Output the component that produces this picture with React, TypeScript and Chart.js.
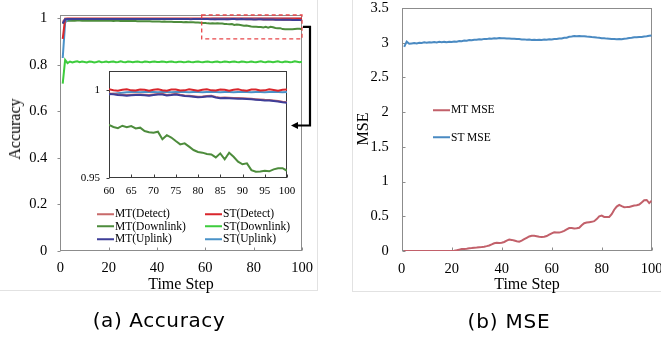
import React, { useEffect, useRef } from 'react';
import { Chart, registerables } from 'chart.js';

Chart.register(...registerables);

const SERIF = '"Liberation Serif", "Times New Roman", serif';

// ---------- categories / ticks ----------
const timeSteps = Array.from({ length: 100 }, (_, i) => i + 1);
const stepTicks = [0, 20, 40, 60, 80, 100];
const accTicks = [0, 0.2, 0.4, 0.6, 0.8, 1];
const insetStepTicks = [60, 65, 70, 75, 80, 85, 90, 95, 100];
const insetAccTicks = [0.95, 1];
const mseTicks = [0, 0.5, 1, 1.5, 2, 2.5, 3, 3.5];

// ---------- accuracy series (steps 1..100) ----------
const mtDetect = [
  0.985, 0.9975, 0.9981, 0.9979, 0.9982, 0.998, 0.9978, 0.9981, 0.9983, 0.998,
  0.9979, 0.9982, 0.998, 0.9978, 0.9981, 0.9983, 0.998, 0.9978, 0.9981, 0.9982,
  0.998, 0.9977, 0.998, 0.9982, 0.9979, 0.9978, 0.9981, 0.9982, 0.9979, 0.9977,
  0.998, 0.9982, 0.9979, 0.9977, 0.998, 0.9981, 0.9978, 0.9977, 0.998, 0.9981,
  0.9978, 0.9976, 0.9979, 0.9981, 0.9978, 0.9976, 0.9979, 0.998, 0.9977, 0.9976,
  0.9979, 0.998, 0.9977, 0.9975, 0.9978, 0.998, 0.9977, 0.9976, 0.9979, 0.998,
  0.9979, 0.9975, 0.9973, 0.9971, 0.9973, 0.9975, 0.9975, 0.9973, 0.9971, 0.9974,
  0.9977, 0.9978, 0.9972, 0.9974, 0.9978, 0.9973, 0.9969, 0.9968, 0.9965, 0.9962,
  0.9963, 0.9966, 0.9967, 0.9961, 0.9956, 0.9957, 0.9956, 0.9955, 0.9954, 0.9953,
  0.9952, 0.995, 0.9948, 0.9946, 0.9944, 0.9943, 0.9941, 0.9938, 0.9933, 0.9931,
];
const stDetect = [
  0.912, 0.9992, 1.0001, 0.9998, 1.0003, 1.0, 0.9997, 1.0002, 1.0004, 0.9999,
  0.9997, 1.0002, 1.0003, 0.9998, 0.9998, 1.0003, 1.0002, 0.9997, 1.0, 1.0004,
  0.9999, 0.9997, 1.0002, 1.0003, 0.9998, 0.9999, 1.0004, 1.0001, 0.9997, 1.0001,
  1.0004, 0.9999, 0.9997, 1.0002, 1.0003, 0.9998, 0.9999, 1.0003, 1.0001, 0.9997,
  1.0001, 1.0004, 0.9999, 0.9997, 1.0002, 1.0003, 0.9998, 0.9999, 1.0004, 1.0,
  0.9997, 1.0002, 1.0003, 0.9998, 0.9998, 1.0003, 1.0002, 0.9997, 1.0, 1.0004,
  0.9999, 0.9996, 1.0002, 1.0004, 0.9998, 0.9997, 1.0003, 1.0002, 0.9996, 1.0001,
  1.0004, 0.9999, 0.9996, 1.0003, 1.0003, 0.9997, 0.9998, 1.0004, 1.0, 0.9996,
  1.0002, 1.0004, 0.9998, 0.9997, 1.0003, 1.0002, 0.9996, 1.0001, 1.0004, 0.9998,
  0.9996, 1.0003, 1.0003, 0.9997, 0.9998, 1.0004, 1.0, 0.9996, 1.0002, 1.0003,
];
const mtDownlink = [
  0.978, 0.9895, 0.9905, 0.991, 0.9908, 0.9906, 0.9909, 0.9911, 0.9907, 0.9905,
  0.9908, 0.991, 0.9906, 0.9903, 0.9906, 0.9908, 0.9904, 0.9901, 0.9903, 0.9905,
  0.99, 0.9897, 0.9899, 0.9901, 0.9896, 0.9893, 0.9895, 0.9896, 0.9891, 0.9888,
  0.9889, 0.9886, 0.9882, 0.9884, 0.988, 0.9876, 0.9878, 0.9874, 0.987, 0.9872,
  0.9868, 0.9864, 0.9866, 0.9861, 0.9857, 0.9859, 0.9854, 0.985, 0.9852, 0.9846,
  0.9842, 0.9844, 0.9838, 0.9834, 0.9836, 0.9829, 0.9825, 0.9822, 0.981, 0.9801,
  0.979, 0.9783, 0.9797, 0.9788, 0.9795, 0.9782, 0.9786, 0.9767, 0.976, 0.9757,
  0.9763, 0.972, 0.9743, 0.973, 0.971, 0.9691, 0.9697, 0.9678, 0.9659, 0.9648,
  0.9644, 0.9636, 0.9634, 0.9617, 0.964, 0.9606, 0.9644, 0.9621, 0.9593, 0.9578,
  0.9583, 0.9545, 0.9536, 0.9537, 0.9541, 0.9538, 0.9549, 0.9555, 0.9556, 0.9541,
];
const stDownlink = [
  0.72, 0.822, 0.808, 0.815, 0.811, 0.814, 0.816, 0.812, 0.815, 0.813,
  0.811, 0.815, 0.814, 0.811, 0.813, 0.816, 0.812, 0.813, 0.815, 0.812,
  0.814, 0.815, 0.812, 0.813, 0.816, 0.813, 0.812, 0.815, 0.814, 0.812,
  0.814, 0.815, 0.813, 0.812, 0.815, 0.814, 0.812, 0.814, 0.815, 0.813,
  0.813, 0.815, 0.814, 0.812, 0.814, 0.815, 0.813, 0.812, 0.814, 0.814,
  0.812, 0.813, 0.815, 0.813, 0.812, 0.814, 0.815, 0.813, 0.812, 0.814,
  0.815, 0.813, 0.812, 0.814, 0.815, 0.812, 0.813, 0.815, 0.814, 0.812,
  0.814, 0.815, 0.813, 0.812, 0.815, 0.814, 0.812, 0.813, 0.815, 0.813,
  0.812, 0.814, 0.816, 0.813, 0.812, 0.815, 0.814, 0.812, 0.814, 0.816,
  0.813, 0.812, 0.815, 0.814, 0.812, 0.813, 0.816, 0.814, 0.812, 0.814,
];
const mtUplink = [
  0.978, 0.9968, 0.9978, 0.9976, 0.9979, 0.9977, 0.9975, 0.9978, 0.998, 0.9977,
  0.9976, 0.9979, 0.9977, 0.9975, 0.9978, 0.998, 0.9977, 0.9975, 0.9978, 0.9979,
  0.9977, 0.9974, 0.9977, 0.9979, 0.9976, 0.9975, 0.9978, 0.9979, 0.9976, 0.9974,
  0.9977, 0.9979, 0.9976, 0.9974, 0.9977, 0.9978, 0.9975, 0.9974, 0.9977, 0.9978,
  0.9975, 0.9973, 0.9976, 0.9978, 0.9975, 0.9973, 0.9976, 0.9977, 0.9974, 0.9973,
  0.9976, 0.9977, 0.9974, 0.9972, 0.9975, 0.9977, 0.9974, 0.9973, 0.9976, 0.9977,
  0.9976, 0.9972, 0.997, 0.9968, 0.997, 0.9972, 0.9972, 0.997, 0.9968, 0.9971,
  0.9974, 0.9975, 0.9969, 0.9971, 0.9975, 0.997, 0.9966, 0.9965, 0.9962, 0.9959,
  0.996, 0.9963, 0.9964, 0.9958, 0.9953, 0.9954, 0.9953, 0.9952, 0.9951, 0.995,
  0.9949, 0.9947, 0.9945, 0.9943, 0.9941, 0.994, 0.9938, 0.9935, 0.993, 0.9928,
];
const stUplink = [
  0.83, 0.982, 0.9965, 0.9972, 0.9975, 0.9977, 0.9976, 0.9978, 0.9977, 0.9976,
  0.9977, 0.9978, 0.9976, 0.9977, 0.9978, 0.9977, 0.9976, 0.9978, 0.9977, 0.9976,
  0.9977, 0.9978, 0.9977, 0.9976, 0.9977, 0.9978, 0.9976, 0.9977, 0.9978, 0.9977,
  0.9976, 0.9977, 0.9978, 0.9977, 0.9976, 0.9977, 0.9978, 0.9977, 0.9976, 0.9977,
  0.9978, 0.9976, 0.9977, 0.9978, 0.9977, 0.9976, 0.9977, 0.9978, 0.9976, 0.9977,
  0.9978, 0.9977, 0.9976, 0.9977, 0.9978, 0.9977, 0.9976, 0.9977, 0.9976, 0.9976,
  0.9979, 0.9982, 0.9985, 0.9987, 0.9988, 0.9988, 0.9987, 0.9988, 0.9989, 0.9988,
  0.9987, 0.9988, 0.9988, 0.9987, 0.9988, 0.9989, 0.9988, 0.9987, 0.9988, 0.9988,
  0.9987, 0.9988, 0.9989, 0.9988, 0.9987, 0.9988, 0.9988, 0.9987, 0.9988, 0.9989,
  0.9988, 0.9987, 0.9988, 0.9988, 0.9987, 0.9988, 0.9989, 0.9988, 0.9987, 0.9988,
];

// ---------- MSE series (steps 1..100) ----------
const mtMse = [
  0, 0, 0, 0, 0, 0, 0, 0, 0, 0,
  0, 0, 0, 0, 0, 0, 0, 0, 0, 0,
  0.003, 0.01, 0.02, 0.028, 0.03, 0.033, 0.038, 0.042, 0.047, 0.05,
  0.055, 0.058, 0.062, 0.07, 0.08, 0.095, 0.112, 0.118, 0.115, 0.118,
  0.13, 0.15, 0.165, 0.16, 0.15, 0.14, 0.135, 0.15, 0.17, 0.19,
  0.21, 0.22, 0.218, 0.212, 0.205, 0.203, 0.205, 0.215, 0.235, 0.255,
  0.27, 0.268, 0.265, 0.275, 0.29, 0.31, 0.33, 0.33, 0.325, 0.327,
  0.335, 0.37, 0.4, 0.41, 0.415, 0.42, 0.43, 0.46, 0.5, 0.51,
  0.49, 0.49, 0.49, 0.53, 0.595, 0.64, 0.665, 0.645, 0.63, 0.632,
  0.635, 0.645, 0.655, 0.66, 0.67, 0.7, 0.73, 0.735, 0.69, 0.725,
];
const stMse = [
  2.94, 3.015, 2.985, 2.99, 2.995, 2.99, 3.0, 2.995, 3.005, 3.0,
  3.008, 3.003, 3.01, 3.005, 3.012, 3.006, 3.012, 3.008, 3.014, 3.01,
  3.018, 3.015, 3.024, 3.02, 3.03, 3.028, 3.038, 3.035, 3.044, 3.042,
  3.05, 3.047, 3.055, 3.052, 3.06, 3.057, 3.064, 3.06, 3.067, 3.063,
  3.066, 3.062, 3.062, 3.057, 3.058, 3.052, 3.052, 3.047, 3.048, 3.043,
  3.045, 3.04, 3.043, 3.04, 3.044, 3.04, 3.046, 3.044, 3.05, 3.048,
  3.055, 3.053, 3.06, 3.06, 3.07, 3.072, 3.085, 3.088, 3.095, 3.092,
  3.097, 3.093, 3.094, 3.088, 3.087, 3.081, 3.079, 3.074, 3.072, 3.066,
  3.064, 3.059, 3.058, 3.053, 3.053, 3.05, 3.052, 3.05, 3.057, 3.06,
  3.067, 3.07, 3.077, 3.078, 3.082, 3.084, 3.09, 3.093, 3.1, 3.105,
];

// zoomed region of the accuracy chart (data units)
const zoomBox = { x0: 58.5, x1: 100, y0: 0.912, y1: 1.015 };

// ---------- styles ----------
const COL = {
  mtDetect: '#c86a6a',
  stDetect: '#d9262c',
  mtDownlink: '#4d8c3c',
  stDownlink: '#3dcc3d',
  mtUplink: '#3e3e98',
  stUplink: '#4a92c8',
  mtMse: '#c2606a',
  stMse: '#4a8ac2',
};

function ds(label: string, values: number[], color: string, width = 2) {
  return {
    label,
    data: timeSteps.map((s, i) => ({ x: s, y: values[i] })),
    borderColor: color,
    backgroundColor: color,
    borderWidth: width,
    pointRadius: 0,
    tension: 0,
    fill: false,
  };
}

const framePlugin = {
  id: 'frame',
  beforeDatasetsDraw(chart: any, _a: any, opts: any) {
    const { ctx, chartArea: a, scales } = chart;
    ctx.save();
    ctx.strokeStyle = opts.color;
    ctx.lineWidth = 1;
    const l = Math.round(a.left) + 0.5, t = Math.round(a.top) + 0.5;
    const r = Math.round(a.right) - 0.5, b = Math.round(a.bottom) - 0.5;
    ctx.strokeRect(l, t, r - l, b - t);
    const len = opts.tickLen;
    ctx.beginPath();
    scales.x.ticks.forEach((tk: any) => {
      const px = Math.round(scales.x.getPixelForValue(tk.value)) + 0.5;
      ctx.moveTo(px, b);
      ctx.lineTo(px, b + (opts.xIn ? -len : len));
    });
    scales.y.ticks.forEach((tk: any) => {
      const py = Math.round(scales.y.getPixelForValue(tk.value)) + 0.5;
      ctx.moveTo(l, py);
      ctx.lineTo(l + (opts.yIn ? len : -len), py);
    });
    ctx.stroke();
    ctx.restore();
  },
};

const annotPlugin = {
  id: 'annot',
  afterDraw(chart: any, _a: any, opts: any) {
    const { ctx, scales } = chart;
    const x0 = scales.x.getPixelForValue(opts.box.x0);
    const x1 = scales.x.getPixelForValue(opts.box.x1);
    const y0 = scales.y.getPixelForValue(opts.box.y0);
    const y1 = scales.y.getPixelForValue(opts.box.y1);
    ctx.save();
    ctx.strokeStyle = '#e8474a';
    ctx.lineWidth = 1.3;
    ctx.setLineDash([4, 3]);
    ctx.strokeRect(x0, y1, x1 - x0, y0 - y1);
    ctx.setLineDash([]);
    // arrow
    const ym = (y0 + y1) / 2;
    const ax = x1 + 8;
    ctx.strokeStyle = '#000';
    ctx.fillStyle = '#000';
    ctx.lineWidth = 2.2;
    ctx.beginPath();
    ctx.moveTo(x1 + 1, ym);
    ctx.lineTo(ax, ym);
    ctx.lineTo(ax, opts.arrowY);
    ctx.lineTo(opts.arrowX + 5, opts.arrowY);
    ctx.stroke();
    ctx.beginPath();
    ctx.moveTo(opts.arrowX, opts.arrowY);
    ctx.lineTo(opts.arrowX + 7, opts.arrowY - 3.5);
    ctx.lineTo(opts.arrowX + 7, opts.arrowY + 3.5);
    ctx.closePath();
    ctx.fill();
    ctx.restore();
  },
};

function linearAxis(o: any) {
  return {
    type: 'linear',
    min: o.min,
    max: o.max,
    afterBuildTicks: (s: any) => {
      s.ticks = o.ticks.map((v: number) => ({ value: v }));
    },
    ticks: {
      font: { family: SERIF, size: o.fontSize },
      color: '#000',
      padding: o.padding,
      autoSkip: false,
      maxRotation: 0,
      callback: (v: any) => String(v),
    },
    grid: { display: false, drawTicks: false },
    border: { display: false },
    afterFit: (s: any) => {
      if (o.width !== undefined) s.width = o.width;
      if (o.height !== undefined) s.height = o.height;
      s.paddingTop = 0;
      s.paddingBottom = 0;
      s.paddingLeft = 0;
      s.paddingRight = 0;
    },
  };
}

function baseOptions(pad: any, xAxis: any, yAxis: any, extraPlugins: any) {
  return {
    responsive: false,
    animation: false,
    devicePixelRatio: 1,
    layout: { padding: pad },
    events: [],
    scales: { x: xAxis, y: yAxis },
    plugins: { legend: { display: false }, tooltip: { enabled: false }, ...extraPlugins },
  };
}

function accuracyDatasets() {
  return [
    ds('MT(Uplink)', mtUplink, COL.mtUplink),
    ds('MT(Detect)', mtDetect, COL.mtDetect),
    ds('ST(Detect)', stDetect, COL.stDetect),
    ds('ST(Uplink)', stUplink, COL.stUplink),
    ds('MT(Downlink)', mtDownlink, COL.mtDownlink),
    ds('ST(Downlink)', stDownlink, COL.stDownlink),
  ];
}

const mainConfig = () => ({
  type: 'line',
  data: { datasets: accuracyDatasets() },
  options: baseOptions(
    { left: 0, top: 15, right: 28, bottom: 0 },
    linearAxis({ min: 0, max: 100, ticks: stepTicks, fontSize: 14.5, padding: 8, height: 49 }),
    linearAxis({ min: 0, max: 1.015, ticks: accTicks, fontSize: 14.5, padding: 13, width: 60.3 }),
    {
      frame: { color: '#8c8c8c', tickLen: 3, xIn: true, yIn: false },
      annot: { box: zoomBox, arrowX: 291, arrowY: 125.5 },
    }
  ),
  plugins: [framePlugin, annotPlugin],
});

const insetConfig = () => ({
  type: 'line',
  data: { datasets: accuracyDatasets() },
  options: baseOptions(
    { left: 0, top: 11, right: 13, bottom: 0 },
    linearAxis({ min: 60, max: 100, ticks: insetStepTicks, fontSize: 11, padding: 7, height: 27 }),
    linearAxis({ min: 0.95, max: 1.0108, ticks: insetAccTicks, fontSize: 11, padding: 9, width: 39 }),
    { frame: { color: '#3a3a3a', tickLen: 3, xIn: true, yIn: false } }
  ),
  plugins: [framePlugin],
});

const mseConfig = () => ({
  type: 'line',
  data: {
    datasets: [ds('MT MSE', mtMse, COL.mtMse), ds('ST MSE', stMse, COL.stMse)],
  },
  options: baseOptions(
    { left: 0, top: 8, right: 9.3, bottom: 0 },
    linearAxis({ min: 0, max: 100, ticks: stepTicks, fontSize: 14.5, padding: 9, height: 49 }),
    linearAxis({ min: 0, max: 3.5, ticks: mseTicks, fontSize: 14.5, padding: 13, width: 66.7 }),
    { frame: { color: '#8c8c8c', tickLen: 3, xIn: true, yIn: true } }
  ),
  plugins: [framePlugin],
});

function ChartBox({ make, left, top, width, height }: any) {
  const ref = useRef<HTMLCanvasElement>(null);
  useEffect(() => {
    const chart = new Chart(ref.current as HTMLCanvasElement, make());
    return () => chart.destroy();
  }, []);
  return (
    <canvas
      ref={ref}
      width={width}
      height={height}
      style={{ position: 'absolute', left, top, width, height }}
    />
  );
}

function Text({ x, y, children, size, family = SERIF, rotate = false, spacing = 0 }: any) {
  return (
    <div
      style={{
        position: 'absolute',
        left: x,
        top: y,
        transform: `translate(-50%, -50%)${rotate ? ' rotate(-90deg)' : ''}`,
        font: `${size}px ${family}`,
        letterSpacing: spacing,
        lineHeight: 1,
        whiteSpace: 'nowrap',
        color: '#000',
      }}
    >
      {children}
    </div>
  );
}

const accLegend = [
  { label: 'MT(Detect)', color: COL.mtDetect, col: 0, row: 0 },
  { label: 'ST(Detect)', color: COL.stDetect, col: 1, row: 0 },
  { label: 'MT(Downlink)', color: COL.mtDownlink, col: 0, row: 1 },
  { label: 'ST(Downlink)', color: COL.stDownlink, col: 1, row: 1 },
  { label: 'MT(Uplink)', color: COL.mtUplink, col: 0, row: 2 },
  { label: 'ST(Uplink)', color: COL.stUplink, col: 1, row: 2 },
];
const mseLegend = [
  { label: 'MT MSE', color: COL.mtMse },
  { label: 'ST MSE', color: COL.stMse },
];

function LegendItem({ x, y, color, label, size }: any) {
  return (
    <div
      style={{
        position: 'absolute',
        left: x,
        top: y,
        transform: 'translateY(-50%)',
        display: 'flex',
        alignItems: 'center',
        font: `${size}px ${SERIF}`,
        lineHeight: 1,
        whiteSpace: 'nowrap',
        color: '#000',
      }}
    >
      <span style={{ display: 'inline-block', width: 17, height: 2, background: color, marginRight: 1 }} />
      <span>{label}</span>
    </div>
  );
}

export default function App() {
  return (
    <div
      style={{
        position: 'fixed',
        left: 0,
        top: 0,
        width: 661,
        height: 337,
        overflow: 'hidden',
        background: '#fff',
      }}
    >
      {/* faint chart-area borders */}
      <div style={{ position: 'absolute', left: -1, top: -1, width: 318, height: 291, borderRight: '1px solid #e2e2e2', borderBottom: '1px solid #e2e2e2' }} />
      <div style={{ position: 'absolute', left: 352, top: -1, width: 320, height: 292, borderLeft: '1px solid #e2e2e2', borderBottom: '1px solid #e2e2e2' }} />

      <ChartBox make={mainConfig} left={0} top={0} width={330} height={300} />
      <ChartBox make={insetConfig} left={70} top={60} width={230} height={145} />
      <ChartBox make={mseConfig} left={335} top={0} width={326} height={300} />

      {accLegend.map((it) => (
        <LegendItem key={it.label} x={it.col === 0 ? 97 : 205} y={214 + it.row * 12.6} color={it.color} label={it.label} size={11.5} />
      ))}
      {mseLegend.map((it, i) => (
        <LegendItem key={it.label} x={433} y={110 + i * 27.5} color={it.color} label={it.label} size={11.5} />
      ))}

      <Text x={15} y={129} size={16} rotate>Accuracy</Text>
      <Text x={363} y={129} size={16} rotate>MSE</Text>
      <Text x={181} y={284} size={16}>Time Step</Text>
      <Text x={527} y={284} size={16}>Time Step</Text>

      <Text x={159} y={320} size={20} spacing={0.6} family={'"DejaVu Sans", sans-serif'}>(a) Accuracy</Text>
      <Text x={509} y={321} size={20} spacing={0.8} family={'"DejaVu Sans", sans-serif'}>(b) MSE</Text>
    </div>
  );
}
